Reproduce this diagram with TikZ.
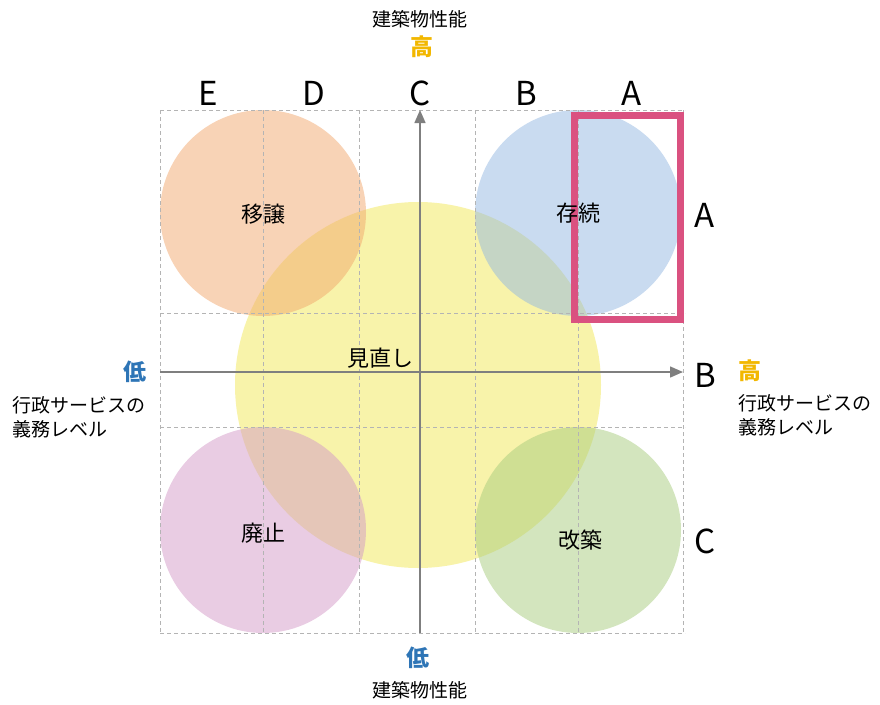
\documentclass[tikz,border=0pt]{standalone}
\usepackage{fontspec}
\setmainfont{Noto Sans CJK JP}
\usetikzlibrary{arrows.meta}

\definecolor{gridgray}{HTML}{B4B4B4}
\definecolor{axisgray}{HTML}{7F7F7F}
\definecolor{markpink}{HTML}{DA5180}
\definecolor{highorange}{HTML}{F2B700}
\definecolor{lowblue}{HTML}{2E75B6}
\definecolor{cOrange}{HTML}{F1A76D}
\definecolor{cBlue}{HTML}{93B7E1}
\definecolor{cYellow}{HTML}{F1E755}
\definecolor{cPurple}{HTML}{D399C7}
\definecolor{cGreen}{HTML}{A7CB7D}

\tikzstyle{bubble}=[
    circle,
    inner sep=0pt,
    minimum size=206pt,
    fill opacity=0.5,
  ]
\tikzstyle{gridline}=[
    draw=gridgray,
    line width=1pt,
    dash pattern=on 4pt off 3pt,
  ]
\tikzstyle{axis}=[
    -{Triangle[length=13pt,width=11pt]},
    draw=axisgray,
    line width=1.5pt,
  ]
\tikzstyle{rank}=[
    inner sep=0pt,
    font=\fontsize{33}{33}\selectfont,
  ]
\tikzstyle{level}=[
    inner sep=0pt,
    font=\bfseries\fontsize{23}{23}\selectfont,
  ]
\tikzstyle{caption}=[
    inner sep=0pt,
    align=left,
    font=\fontsize{19}{24}\selectfont,
  ]
\tikzstyle{verdict}=[
    inner sep=0pt,
    font=\fontsize{22}{22}\selectfont,
  ]

\begin{document}
\begin{tikzpicture}[x=1pt, y=-1pt]
      \useasboundingbox (0,0) rectangle (880,704);
      % bubbles
      \node[bubble, fill=cYellow, minimum size=366pt] (review) at (418, 385) {};
      \node[bubble, fill=cOrange] (transfer) at (263, 213) {};
      \node[bubble, fill=cBlue] (keep) at (578, 213) {};
      \node[bubble, fill=cPurple] (abolish) at (263, 530) {};
      \node[bubble, fill=cGreen] (rebuild) at (578, 530) {};
      % grid
      \foreach \x in {160, 263, 359, 475, 578, 683} {%
        \draw[gridline] (\x, 110) -- (\x, 633);
      }
      \foreach \y in {110, 313, 427, 633} {%
        \draw[gridline] (160, \y) -- (685, \y);
      }
      % axes
      \coordinate (left) at (160, 372);
      \coordinate (right) at (683, 372);
      \coordinate (bottom) at (420, 633);
      \coordinate (top) at (420, 110);
      \draw[axis] (left) -- (right);
      \draw[axis] (bottom) -- (top);
      % marked cell
      \draw[markpink, line width=7pt] (574, 115) rectangle (680, 319);
      % column and row ranks
      \foreach \c [count=\i] in {E, D, C, B, A} {%
        \node[rank] (col\c) at (102 + 106*\i, 93) {\c};
      }
      \foreach \r/\y in {A/215, B/375, C/541} {%
        \node[rank, anchor=west] (row\r) at (694, \y) {\r};
      }
      % axis captions
      \node[caption] (perfTop) at (420, 19) {建築物性能};
      \node[level, text=highorange] (highTop) at (422, 47) {高};
      \node[level, text=lowblue] (lowBottom) at (418, 658) {低};
      \node[caption] (perfBottom) at (420, 690) {建築物性能};
      \node[level, text=lowblue] (lowLeft) at (135, 372) {低};
      \node[caption, anchor=north west] (dutyLeft) at (12, 396) {行政サービスの\\義務レベル};
      \node[level, text=highorange] (highRight) at (750, 371) {高};
      \node[caption, anchor=north west] (dutyRight) at (738, 394) {行政サービスの\\義務レベル};
      % verdicts
      \node[verdict] (transferText) at (263, 214) {移譲};
      \node[verdict] (keepText) at (578, 213) {存続};
      \node[verdict] (reviewText) at (380, 358) {見直し};
      \node[verdict] (abolishText) at (263, 533) {廃止};
      \node[verdict] (rebuildText) at (580, 540) {改築};
    \end{tikzpicture}
\end{document}
